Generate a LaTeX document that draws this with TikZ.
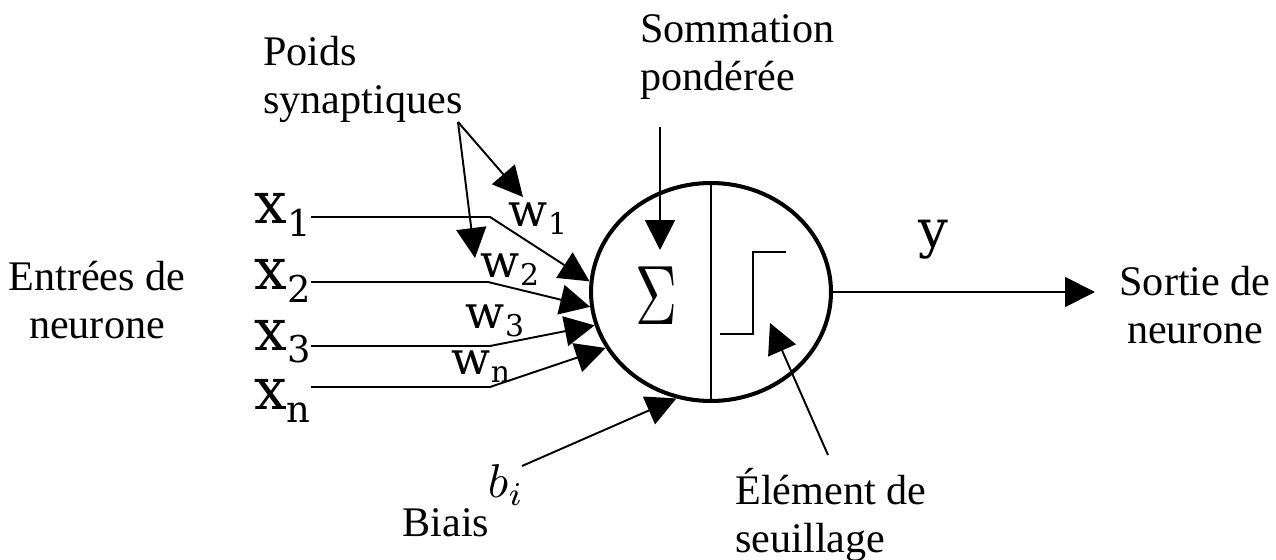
\documentclass[tikz,border=0pt]{standalone}
\usepackage{fontspec}
\usepackage{graphicx}
\setmainfont{Liberation Serif}
\newfontfamily\symfont{DejaVu Serif}
\usetikzlibrary{positioning,arrows.meta,shapes.geometric}

\newcommand{\lbltext}{\fontsize{24}{27.2}\selectfont}
\newcommand{\invar}[2]{{\symfont\fontsize{33}{33}\selectfont #1\raisebox{-7pt}{\fontsize{21}{21}\selectfont #2}}}
\newcommand{\wvar}[2]{{\symfont\fontsize{26}{26}\selectfont #1\raisebox{-4.5pt}{\fontsize{17}{17}\selectfont #2}}}

\tikzset{
  wire/.style={line width=1.1pt},
  bigtip/.style={wire,-{Triangle[length=0.6cm,width=0.6cm]}},
  lbl/.style={font=\lbltext,inner sep=0pt,align=center},
}

\begin{document}
\begin{tikzpicture}[x=0.02cm,y=-0.02cm]
  \useasboundingbox (0,0) rectangle (1276,560);

  % le neurone
  \node[ellipse,draw,line width=2.3pt,minimum width=4.8cm,minimum height=4.36cm,
        inner sep=0pt] (neuron) at (711,292) {};
  \draw[wire] (neuron.north) -- (neuron.south);
  \node[inner sep=0pt] (sigma) at (656,296) {\scalebox{3.3}[4.8]{$\Sigma$}};
  \draw[wire] (720,334) -- (753,334) -- (753,252) -- (786,252);

  % entrees
  \node[lbl] (entrees) at (97,300) {Entrées de\\neurone};
  \node[anchor=east,inner sep=0pt] (x1) at (311,215) {\invar{x}{1}};
  \node[anchor=east,inner sep=0pt] (x2) at (311,281) {\invar{x}{2}};
  \node[anchor=east,inner sep=0pt] (x3) at (311,342) {\invar{x}{3}};
  \node[anchor=east,inner sep=0pt] (xn) at (311,401) {\invar{x}{n}};

  \coordinate (k1) at (490,217);
  \coordinate (k2) at (488,282);
  \coordinate (k3) at (490,346);
  \coordinate (kn) at (490,387);
  \draw[bigtip] (x1.east |- k1) -- (k1) -- (neuron.175);
  \draw[bigtip] (x2.east |- k2) -- (k2) -- (neuron.187);
  \draw[bigtip] (x3.east |- k3) -- (k3) -- (neuron.196);
  \draw[bigtip] (xn.east |- kn) -- (kn) -- (neuron.208);

  % poids
  \node[inner sep=0pt] (w1) at (538,219) {\wvar{w}{1}};
  \node[inner sep=0pt] (w2) at (510,270) {\wvar{w}{2}};
  \node[inner sep=0pt] (w3) at (495,321) {\wvar{w}{3}};
  \node[inner sep=0pt] (wn) at (481,367) {\wvar{w}{n}};

  \node[lbl,align=left,anchor=north west] (poids) at (263,36) {Poids\\synaptiques};
  \coordinate (pa) at (458,122);
  \coordinate (pw1) at (523,197);
  \coordinate (pw2) at (475,258);
  \draw[bigtip] (pa) -- (pw1);
  \draw[bigtip] (pa) -- (pw2);

  % sommation
  \node[lbl,align=left,anchor=north west] (somme) at (640,14) {Sommation\\pondérée};
  \coordinate (sa) at (660,127);
  \coordinate (sb) at (660,250);
  \draw[bigtip] (sa) -- (sb);

  % sortie
  \node[lbl] (sortie) at (1195,305) {Sortie de\\neurone};
  \node[inner sep=0pt,font=\symfont\fontsize{30}{30}\selectfont] (yout) at (933,240) {y};
  \coordinate (ytip) at (1095,292);
  \draw[bigtip] (neuron.east) -- (ytip);

  % biais
  \node[inner sep=0pt] (bi) at (506,485) {\scalebox{2.7}{$b_i$}};
  \node[lbl] (biais) at (446,523) {Biais};
  \coordinate (bstart) at (522,466);
  \draw[bigtip] (bstart) -- (neuron.252);

  % seuillage
  \node[lbl,align=left,anchor=north west] (seuil) at (735,468) {Élément de\\seuillage};
  \coordinate (ea) at (828,455);
  \coordinate (eb) at (770,323);
  \draw[bigtip] (ea) -- (eb);
\end{tikzpicture}
\end{document}
